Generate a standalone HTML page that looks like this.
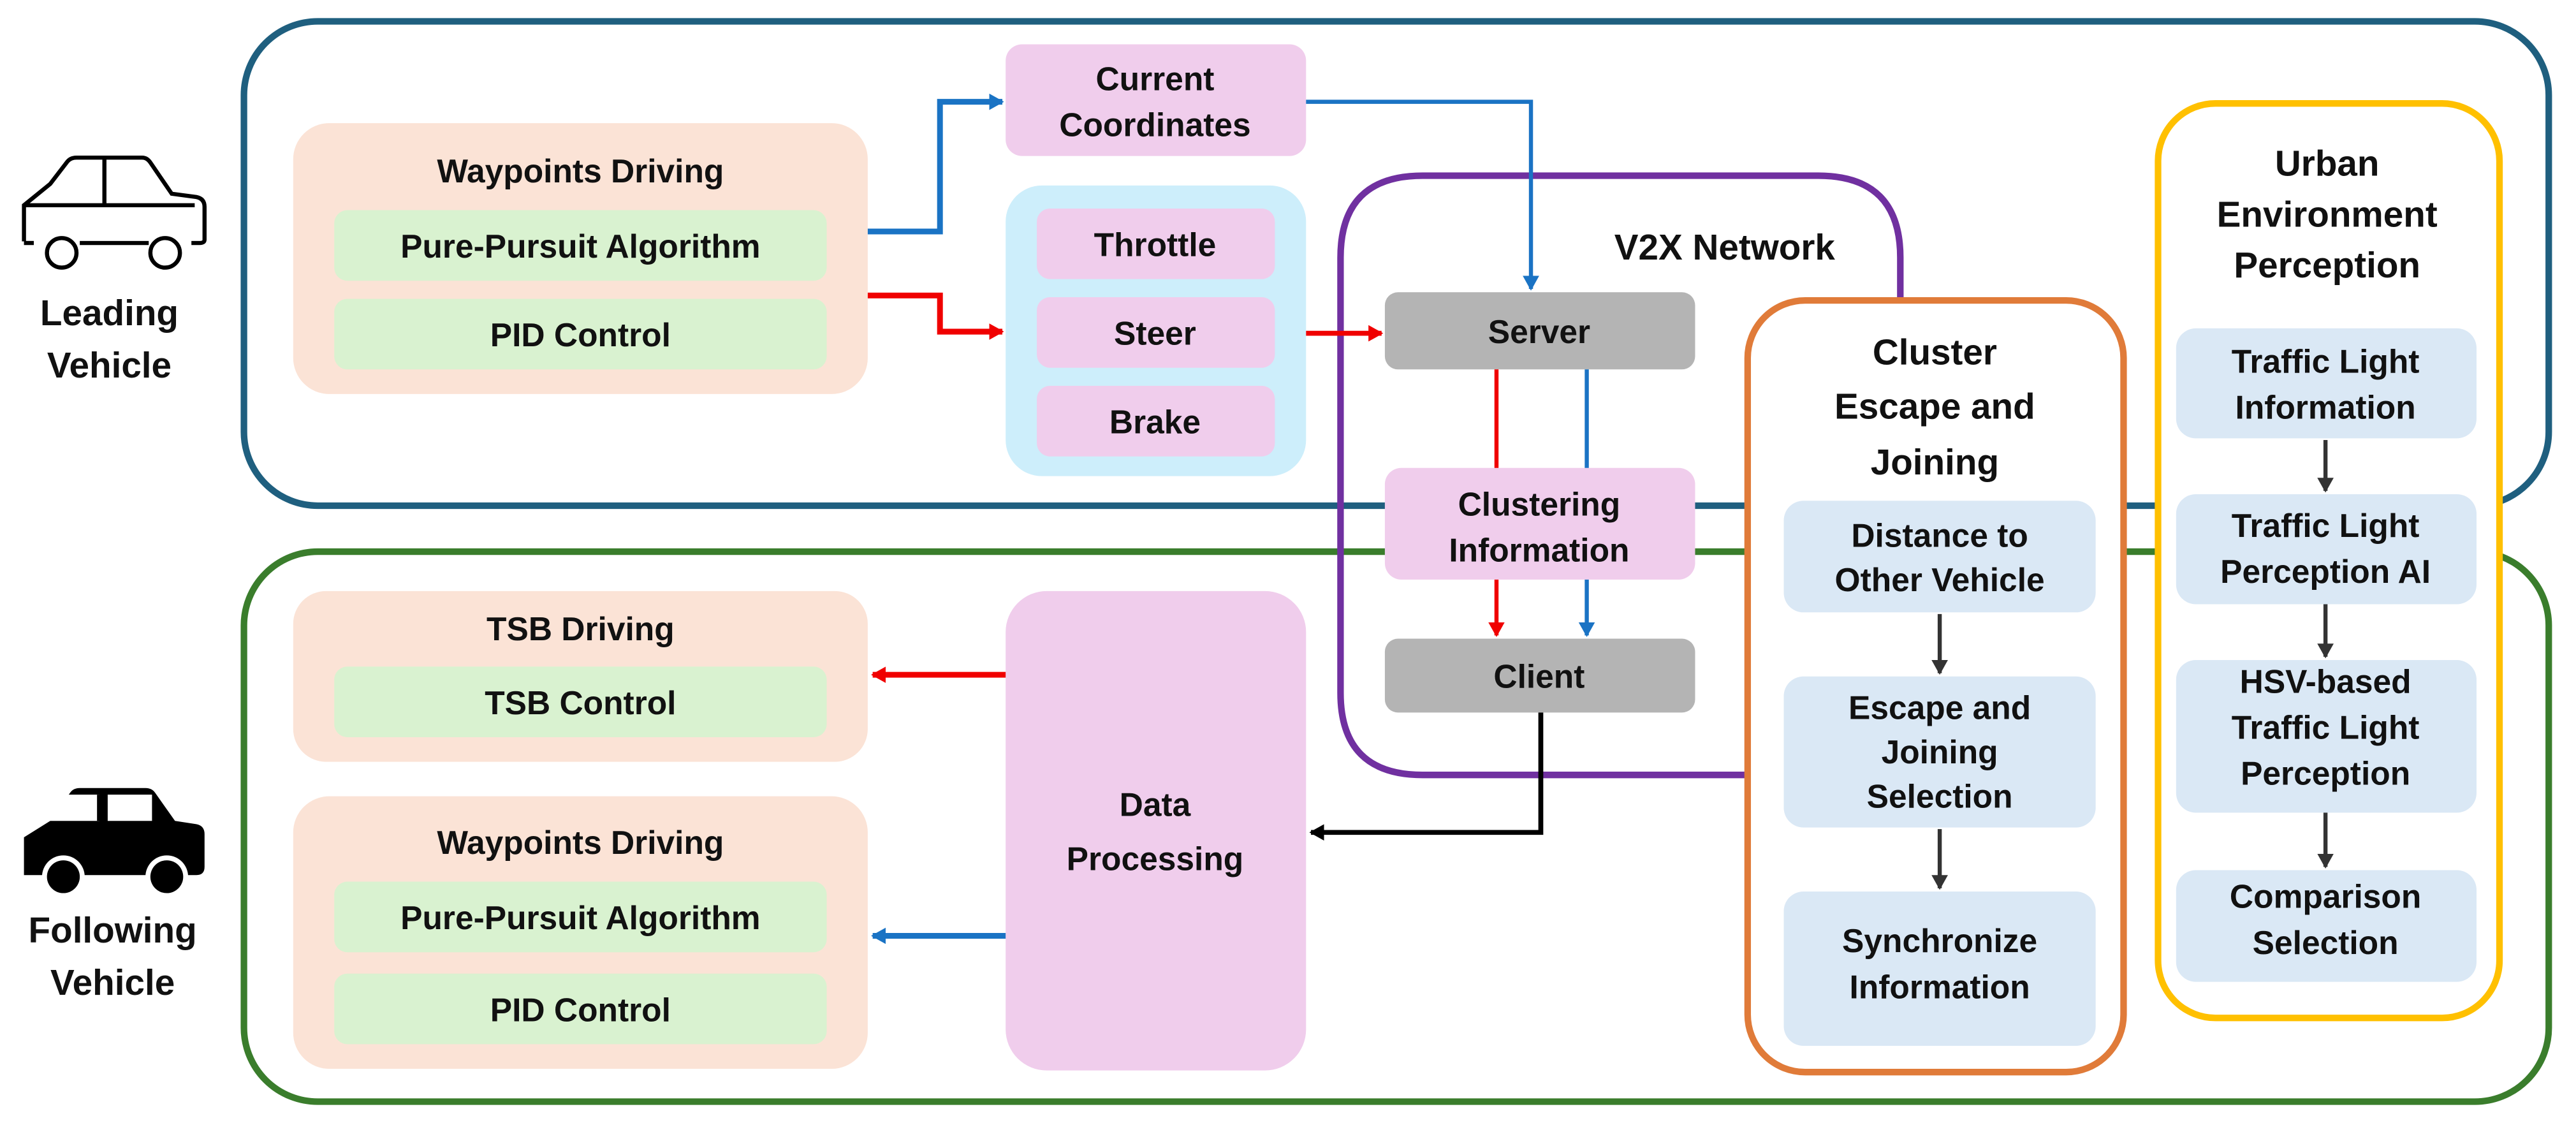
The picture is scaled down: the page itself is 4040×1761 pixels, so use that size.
<!DOCTYPE html>
<html><head><meta charset="utf-8"><style>
html,body{margin:0;padding:0;background:#fff;}
svg{display:block;}
text{font-family:"Liberation Sans",sans-serif;font-weight:bold;fill:#111;text-anchor:middle;}
</style></head><body>
<svg width="4040" height="1761" viewBox="0 0 1568 684" xmlns="http://www.w3.org/2000/svg">
<defs>
<marker id="ab" markerWidth="10" markerHeight="10" refX="8" refY="5" orient="auto" markerUnits="userSpaceOnUse"><path d="M0,0 L9,5 L0,10 Z" fill="#1a73c4"/></marker>
<marker id="ar" markerWidth="10" markerHeight="10" refX="8" refY="5" orient="auto" markerUnits="userSpaceOnUse"><path d="M0,0 L9,5 L0,10 Z" fill="#f00000"/></marker>
<marker id="ak" markerWidth="10" markerHeight="10" refX="8" refY="5" orient="auto" markerUnits="userSpaceOnUse"><path d="M0,0 L9,5 L0,10 Z" fill="#000"/></marker>
<marker id="ag" markerWidth="10" markerHeight="10" refX="8" refY="5" orient="auto" markerUnits="userSpaceOnUse"><path d="M0,0 L9,5 L0,10 Z" fill="#333"/></marker>
</defs>

<rect x="148" y="13" width="1404" height="295" rx="45" fill="none" stroke="#1f5f7f" stroke-width="4"/>
<rect x="148" y="336" width="1404" height="335" rx="45" fill="none" stroke="#3a7d2c" stroke-width="4"/>

<path d="M1157,183 L1157,157 Q1157,107 1107,107 L866,107 Q816,107 816,157 L816,422 Q816,472 866,472 L1063,472" fill="none" stroke="#7030a0" stroke-width="4"/>

<rect x="1064" y="183" width="229" height="470" rx="35" fill="#fff" stroke="#e07b39" stroke-width="4"/>
<rect x="1314" y="63" width="208" height="557" rx="35" fill="#fff" stroke="#ffc000" stroke-width="4"/>

<g fill="none" stroke="#000" stroke-width="2.5">
<path d="M14,147 L14,125 L30,112 L40,99 Q42,96 46,96 L86,96 Q89,96 91,99 L104,118 L119,120 Q124,121 124,126 L124,146 Q124,148 121,148 L116,148"/>
<path d="M20,148 L14,148"/>
<path d="M48,148 L90,148"/>
<path d="M14,125 L118,125"/>
<path d="M63,96 L63,125"/>
<circle cx="37" cy="154" r="9"/>
<circle cx="100" cy="154" r="9"/>
</g>
<text x="66" y="198" font-size="22">Leading</text>
<text x="66" y="230" font-size="22">Vehicle</text>

<g fill="#000">
<path d="M14,533 L14,510 L30,500 L42,483 Q44,480 48,480 L88,480 Q92,480 94,483 L106,500 L119,502 Q124,503 124,508 L124,528 Q124,533 119,533 Z"/>
</g>
<rect x="24" y="484" width="36" height="16" fill="#fff"/>
<rect x="65" y="484" width="27" height="16" fill="#fff" />
<path d="M60,484 L60,500" stroke="#000" stroke-width="3"/>
<circle cx="38" cy="534" r="13" fill="#fff"/><circle cx="38" cy="534" r="10" fill="#000"/>
<circle cx="101" cy="534" r="13" fill="#fff"/><circle cx="101" cy="534" r="10" fill="#000"/>
<text x="68" y="574" font-size="22">Following</text>
<text x="68" y="606" font-size="22">Vehicle</text>

<rect x="178" y="75" width="350" height="165" rx="22" fill="#fbe3d6"/>
<text x="353" y="111" font-size="20">Waypoints Driving</text>
<rect x="203" y="128" width="300" height="43" rx="8" fill="#d9f2d0"/>
<text x="353" y="157" font-size="20">Pure-Pursuit Algorithm</text>
<rect x="203" y="182" width="300" height="43" rx="8" fill="#d9f2d0"/>
<text x="353" y="211" font-size="20">PID Control</text>

<rect x="612" y="27" width="183" height="68" rx="10" fill="#f0cdec"/>
<text x="703" y="55" font-size="20">Current</text>
<text x="703" y="83" font-size="20">Coordinates</text>

<rect x="612" y="113" width="183" height="177" rx="22" fill="#cdeefb"/>
<rect x="631" y="127" width="145" height="43" rx="8" fill="#f0cdec"/>
<text x="703" y="156" font-size="20">Throttle</text>
<rect x="631" y="181" width="145" height="43" rx="8" fill="#f0cdec"/>
<text x="703" y="210" font-size="20">Steer</text>
<rect x="631" y="235" width="145" height="43" rx="8" fill="#f0cdec"/>
<text x="703" y="264" font-size="20">Brake</text>

<path d="M528,141 L572,141 L572,62 L610,62" fill="none" stroke="#1a73c4" stroke-width="3.5" marker-end="url(#ab)"/>
<path d="M528,180 L572,180 L572,202 L610,202" fill="none" stroke="#f00000" stroke-width="3.5" marker-end="url(#ar)"/>
<path d="M795,62 L932,62 L932,176" fill="none" stroke="#1a73c4" stroke-width="2.5" marker-end="url(#ab)"/>
<path d="M795,203 L841,203" fill="none" stroke="#f00000" stroke-width="3" marker-end="url(#ar)"/>

<text x="1050" y="158" font-size="22">V2X Network</text>

<rect x="843" y="178" width="189" height="47" rx="8" fill="#b4b4b4"/>
<text x="937" y="209" font-size="20">Server</text>
<path d="M911,225 L911,286" stroke="#f00000" stroke-width="2.5"/>
<path d="M966,225 L966,286" stroke="#1a73c4" stroke-width="2.5"/>
<rect x="843" y="285" width="189" height="68" rx="10" fill="#f0cdec"/>
<text x="937" y="314" font-size="20">Clustering</text>
<text x="937" y="342" font-size="20">Information</text>
<path d="M911,353 L911,387" stroke="#f00000" stroke-width="2.5" marker-end="url(#ar)"/>
<path d="M966,353 L966,387" stroke="#1a73c4" stroke-width="2.5" marker-end="url(#ab)"/>
<rect x="843" y="389" width="189" height="45" rx="8" fill="#b4b4b4"/>
<text x="937" y="419" font-size="20">Client</text>
<path d="M938,434 L938,507 L798,507" fill="none" stroke="#000" stroke-width="3" marker-end="url(#ak)"/>

<rect x="612" y="360" width="183" height="292" rx="25" fill="#f0cdec"/>
<text x="703" y="497" font-size="20">Data</text>
<text x="703" y="530" font-size="20">Processing</text>
<path d="M612,411 L531,411" stroke="#f00000" stroke-width="3.5" marker-end="url(#ar)"/>
<path d="M612,570 L531,570" stroke="#1a73c4" stroke-width="3.5" marker-end="url(#ab)"/>

<rect x="178" y="360" width="350" height="104" rx="20" fill="#fbe3d6"/>
<text x="353" y="390" font-size="20">TSB Driving</text>
<rect x="203" y="406" width="300" height="43" rx="8" fill="#d9f2d0"/>
<text x="353" y="435" font-size="20">TSB Control</text>

<rect x="178" y="485" width="350" height="166" rx="22" fill="#fbe3d6"/>
<text x="353" y="520" font-size="20">Waypoints Driving</text>
<rect x="203" y="537" width="300" height="43" rx="8" fill="#d9f2d0"/>
<text x="353" y="566" font-size="20">Pure-Pursuit Algorithm</text>
<rect x="203" y="593" width="300" height="43" rx="8" fill="#d9f2d0"/>
<text x="353" y="622" font-size="20">PID Control</text>

<text x="1178" y="222" font-size="22">Cluster</text>
<text x="1178" y="255" font-size="22">Escape and</text>
<text x="1178" y="289" font-size="22">Joining</text>
<rect x="1086" y="305" width="190" height="68" rx="12" fill="#dae8f5"/>
<text x="1181" y="333" font-size="20">Distance to</text>
<text x="1181" y="360" font-size="20">Other Vehicle</text>
<path d="M1181,374 L1181,410" stroke="#333" stroke-width="2.5" marker-end="url(#ag)"/>
<rect x="1086" y="412" width="190" height="92" rx="12" fill="#dae8f5"/>
<text x="1181" y="438" font-size="20">Escape and</text>
<text x="1181" y="465" font-size="20">Joining</text>
<text x="1181" y="492" font-size="20">Selection</text>
<path d="M1181,505 L1181,541" stroke="#333" stroke-width="2.5" marker-end="url(#ag)"/>
<rect x="1086" y="543" width="190" height="94" rx="12" fill="#dae8f5"/>
<text x="1181" y="580" font-size="20">Synchronize</text>
<text x="1181" y="608" font-size="20">Information</text>

<text x="1417" y="107" font-size="22">Urban</text>
<text x="1417" y="138" font-size="22">Environment</text>
<text x="1417" y="169" font-size="22">Perception</text>
<rect x="1325" y="200" width="183" height="67" rx="12" fill="#dae8f5"/>
<text x="1416" y="227" font-size="20">Traffic Light</text>
<text x="1416" y="255" font-size="20">Information</text>
<path d="M1416,268 L1416,299" stroke="#333" stroke-width="2.5" marker-end="url(#ag)"/>
<rect x="1325" y="301" width="183" height="67" rx="12" fill="#dae8f5"/>
<text x="1416" y="327" font-size="20">Traffic Light</text>
<text x="1416" y="355" font-size="20">Perception AI</text>
<path d="M1416,368 L1416,400" stroke="#333" stroke-width="2.5" marker-end="url(#ag)"/>
<rect x="1325" y="402" width="183" height="93" rx="12" fill="#dae8f5"/>
<text x="1416" y="422" font-size="20">HSV-based</text>
<text x="1416" y="450" font-size="20">Traffic Light</text>
<text x="1416" y="478" font-size="20">Perception</text>
<path d="M1416,495 L1416,528" stroke="#333" stroke-width="2.5" marker-end="url(#ag)"/>
<rect x="1325" y="530" width="183" height="68" rx="12" fill="#dae8f5"/>
<text x="1416" y="553" font-size="20">Comparison</text>
<text x="1416" y="581" font-size="20">Selection</text>
</svg>
</body></html>
